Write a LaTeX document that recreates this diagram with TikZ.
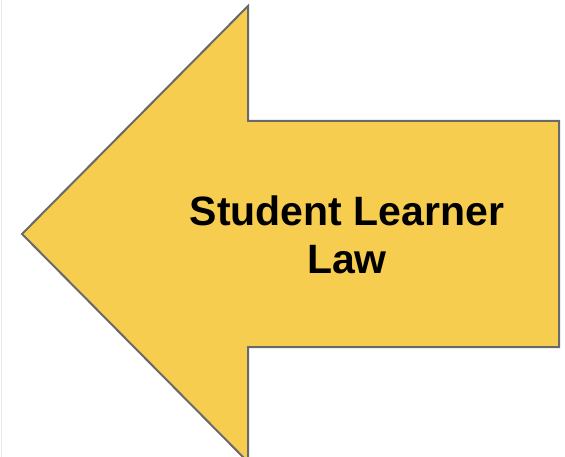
\documentclass[tikz,border=0pt]{standalone}
\usepackage{fontspec}
\setmainfont{Liberation Sans}
\definecolor{arrowfill}{RGB}{246,205,79}
\definecolor{arrowline}{RGB}{105,105,105}
\definecolor{pageedge}{RGB}{235,235,235}
\begin{document}
\begin{tikzpicture}[x=1pt,y=-1pt,
  bigarrow/.style={fill=arrowfill,draw=arrowline,line width=2pt,line join=miter},
  label/.style={font=\fontsize{41}{48}\selectfont\bfseries,align=center,text=black,inner sep=0pt}]
  \useasboundingbox (0,0) rectangle (565,457);
  \clip (0,0) rectangle (565,457);
  \fill[white] (0,0) rectangle (565,457);
  \draw[pageedge,line width=1pt] (1,0) -- (1,457);
  % left-pointing block arrow
  \draw[bigarrow] (22,234) -- (248,6) -- (248,121) -- (559,121)
    -- (559,347) -- (248,347) -- (248,462) -- cycle;
  \node[label] (title) at (347,235) {Student Learner\\Law};
\end{tikzpicture}
\end{document}
